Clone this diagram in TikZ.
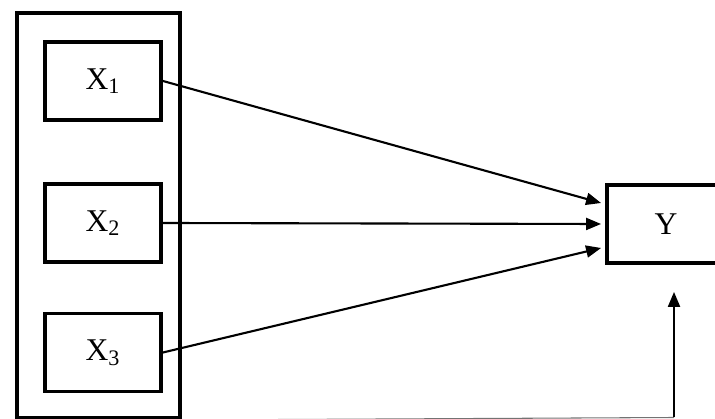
\documentclass[tikz,border=0pt]{standalone}
\usepackage{fontspec}
\setmainfont{Liberation Serif}
\usetikzlibrary{arrows.meta,positioning,calc}

\begin{document}
\begin{tikzpicture}[
  varbox/.style={draw, line width=2.2pt, minimum width=2.32cm, minimum height=1.56cm, font=\fontsize{18}{20}\selectfont},
  arr/.style={-{Triangle[length=3mm, width=2.4mm]}, line width=1.2pt}
]
  \clip (0,0) rectangle (14.3,8.38);

  % Outer frame round the inputs
  \node[draw, line width=2.3pt, minimum width=3.26cm, minimum height=8.1cm] (grp) at (1.97,4.07) {};

  % Input boxes
  \node[varbox] (x1) at (2.06,6.76) {X\textsubscript{1}};
  \node[varbox] (x2) at (2.06,3.92) {X\textsubscript{2}};
  \node[varbox] (x3) at (2.06,1.33) {X\textsubscript{3}};

  % Output box
  \node[varbox, minimum width=2.36cm] (y) at (13.32,3.9) {Y};

  % Arrows from inputs to output
  \draw[arr] (x1.east) -- ($(y.west)+(-0.08,0.42)$);
  \draw[arr] (x2.east) -- ($(y.west)+(-0.08,0)$);
  \draw[arr] (x3.east) -- ($(y.west)+(-0.08,-0.48)$);

  % Feedback line along the bottom
  \coordinate (fb) at (13.48,0.03);
  \draw[black!55, line width=0.6pt] (grp.south east) -- (fb);
  \draw[arr, shorten >=0.54cm] (fb) -- (fb |- y.south);
\end{tikzpicture}
\end{document}
